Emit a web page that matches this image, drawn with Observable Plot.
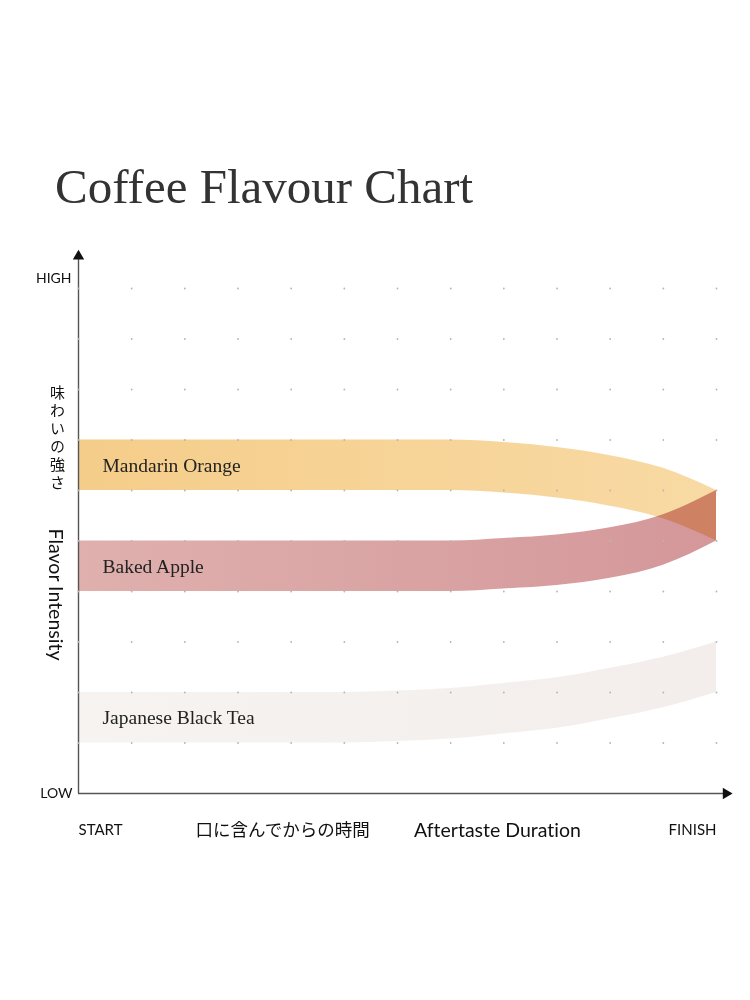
<!DOCTYPE html>
<html><head><meta charset="utf-8">
<script src="https://cdn.jsdelivr.net/npm/d3@7"></script>
<script src="https://cdn.jsdelivr.net/npm/@observablehq/plot@0.6"></script>
<style>
body{margin:0;background:#fff;width:750px;height:1000px;position:relative;overflow:hidden}
#title{position:absolute;left:55px;top:162px;margin:0;font:normal 49px "Liberation Serif",serif;line-height:1;color:#333;white-space:nowrap}
#chart{position:absolute;left:0;top:230px}
</style></head><body>
<h1 id="title">Coffee Flavour Chart</h1>
<div id="chart"></div>
<script>
// time steps (START = 0 … FINISH = 12)
const steps = [0,1,2,3,4,5,6,7,8,9,10,11,12];
const flavours = ["Mandarin Orange","Baked Apple","Japanese Black Tea"];
const mandarinHigh = [7,7,7,7,7,7,7,7,6.95,6.85,6.69,6.44,6.0];
const mandarinLow  = [6,6,6,6,6,6,6,6,5.95,5.85,5.69,5.44,5.0];
const appleHigh    = [5,5,5,5,5,5,5,5,5.05,5.12,5.26,5.52,6.0];
const appleLow     = [4,4,4,4,4,4,4,4,4.05,4.12,4.26,4.52,5.0];
const teaHigh      = [2,2,2,2,2,2,2.03,2.08,2.18,2.29,2.48,2.70,3.0];
const teaLow       = [1,1,1,1,1,1,1.03,1.08,1.18,1.29,1.48,1.70,2.0];
const gridX = [0,1,2,3,4,5,6,7,8,9,10,11,12];
const gridY = [1,2,3,4,5,6,7,8,9,10];
const yLow = {y:0,label:"LOW"};
const yHigh = {y:10,label:"HIGH"};
const xStart = {x:0,label:"START"};
const xFinish = {x:12,label:"FINISH"};
const xTitleJa = "口に含んでからの時間";
const xTitleEn = "Aftertaste Duration";
const yTitleJa = "味わいの強さ";
const yTitleEn = "Flavor Intensity";

const highs = [mandarinHigh, appleHigh, teaHigh];
const lows = [mandarinLow, appleLow, teaLow];
const gradIds = ["gMandarin","gApple","gTea"];
const bands = flavours.map((f,k)=>steps.map((s,i)=>({flavour:f,x:s,y1:lows[k][i],y2:highs[k][i]})));
const labels = flavours.map((f,k)=>({flavour:f,x:steps[0],y:(highs[k][0]+lows[k][0])/2}));
const grid = d3.cross(gridX, gridY).map(([x,y])=>({x,y}));

const yTop = 10.64, xEnd = 12.18;
const sans = "Lato, 'Noto Sans CJK JP', sans-serif";
const jp = "'Noto Sans CJK JP', sans-serif";

const plot = Plot.plot({
  width: 750, height: 640,
  marginLeft: 78, marginRight: 34, marginTop: 58, marginBottom: 77,
  x: {domain: [0,12], axis: null},
  y: {domain: [0,10], axis: null},
  style: {fontFamily: sans, background: "#fff"},
  marks: [
    ...bands.map((b,k)=>Plot.areaY(b,{x:"x",y1:"y1",y2:"y2",fill:`url(#${gradIds[k]})`,curve:"monotone-x"})),
    Plot.ruleX([0],{y1:0,y2:yTop,stroke:"#555",strokeWidth:1.4}),
    Plot.ruleY([0],{x1:0,x2:xEnd,stroke:"#555",strokeWidth:1.4}),
    Plot.dot(grid,{x:"x",y:"y",r:0.9,fill:"#b5b5b5",stroke:null}),
    Plot.dot([{x:0,y:yTop}],{x:"x",y:"y",symbol:"triangle",r:4.2,fill:"#111"}),
    Plot.dot([{x:xEnd,y:0}],{x:"x",y:"y",symbol:"triangle",r:4.2,fill:"#111",rotate:90}),
    Plot.text(labels,{x:"x",y:"y",text:"flavour",dx:24,textAnchor:"start",fontFamily:"'Liberation Serif', serif",fontSize:19.5,fill:"#222"}),
    Plot.text([yHigh],{x:0,y:"y",text:"label",dx:-7,dy:-10,textAnchor:"end",fontSize:14,fill:"#111"}),
    Plot.text([yLow],{x:0,y:"y",text:"label",dx:-6,textAnchor:"end",fontSize:14,fill:"#111"}),
    Plot.text([xStart],{x:"x",y:0,text:"label",dy:37,textAnchor:"start",fontSize:15,fill:"#111"}),
    Plot.text([xFinish],{x:"x",y:0,text:"label",dy:37,textAnchor:"end",fontSize:15,fill:"#111"}),
    Plot.text([xTitleJa],{x:3.84,y:0,dy:37,fontFamily:jp,fontSize:17.5,fill:"#111"}),
    Plot.text([xTitleEn],{x:7.88,y:0,dy:37,fontFamily:sans,fontSize:19.5,fill:"#111"}),
    Plot.text([yTitleJa],{x:0,y:7.11,dx:-21,fontFamily:jp,fontSize:15,fill:"#111"}),
    Plot.text([yTitleEn],{x:0,y:3.94,dx:-23,rotate:90,fontFamily:sans,fontSize:19.5,fill:"#111"})
  ]
});

const svg = d3.select(plot);
svg.style("font-variant-ligatures","none");
const defs = svg.insert("defs",":first-child");
const stops = {
  gMandarin: ["#F5CD8A","#F8DAA4"],
  gApple: ["#DFB0AE","#D4979A"],
  gTea: ["#F6F3F1","#F3EEEB"]
};
for (const [id,[c0,c1]] of Object.entries(stops)) {
  const g = defs.append("linearGradient").attr("id",id).attr("x1","0").attr("x2","1").attr("y1","0").attr("y2","0");
  g.append("stop").attr("offset","0%").attr("stop-color",c0);
  g.append("stop").attr("offset","100%").attr("stop-color",c1);
}
svg.selectAll('[fill="url(#gApple)"]').style("mix-blend-mode","multiply");
// vertical Japanese axis title (upright characters, top to bottom)
svg.selectAll("text").filter(function(){return this.textContent===yTitleJa;})
  .attr("dy",null).style("writing-mode","vertical-rl").style("text-orientation","upright").style("letter-spacing","3px");
document.getElementById("chart").appendChild(plot);
</script>
</body></html>
